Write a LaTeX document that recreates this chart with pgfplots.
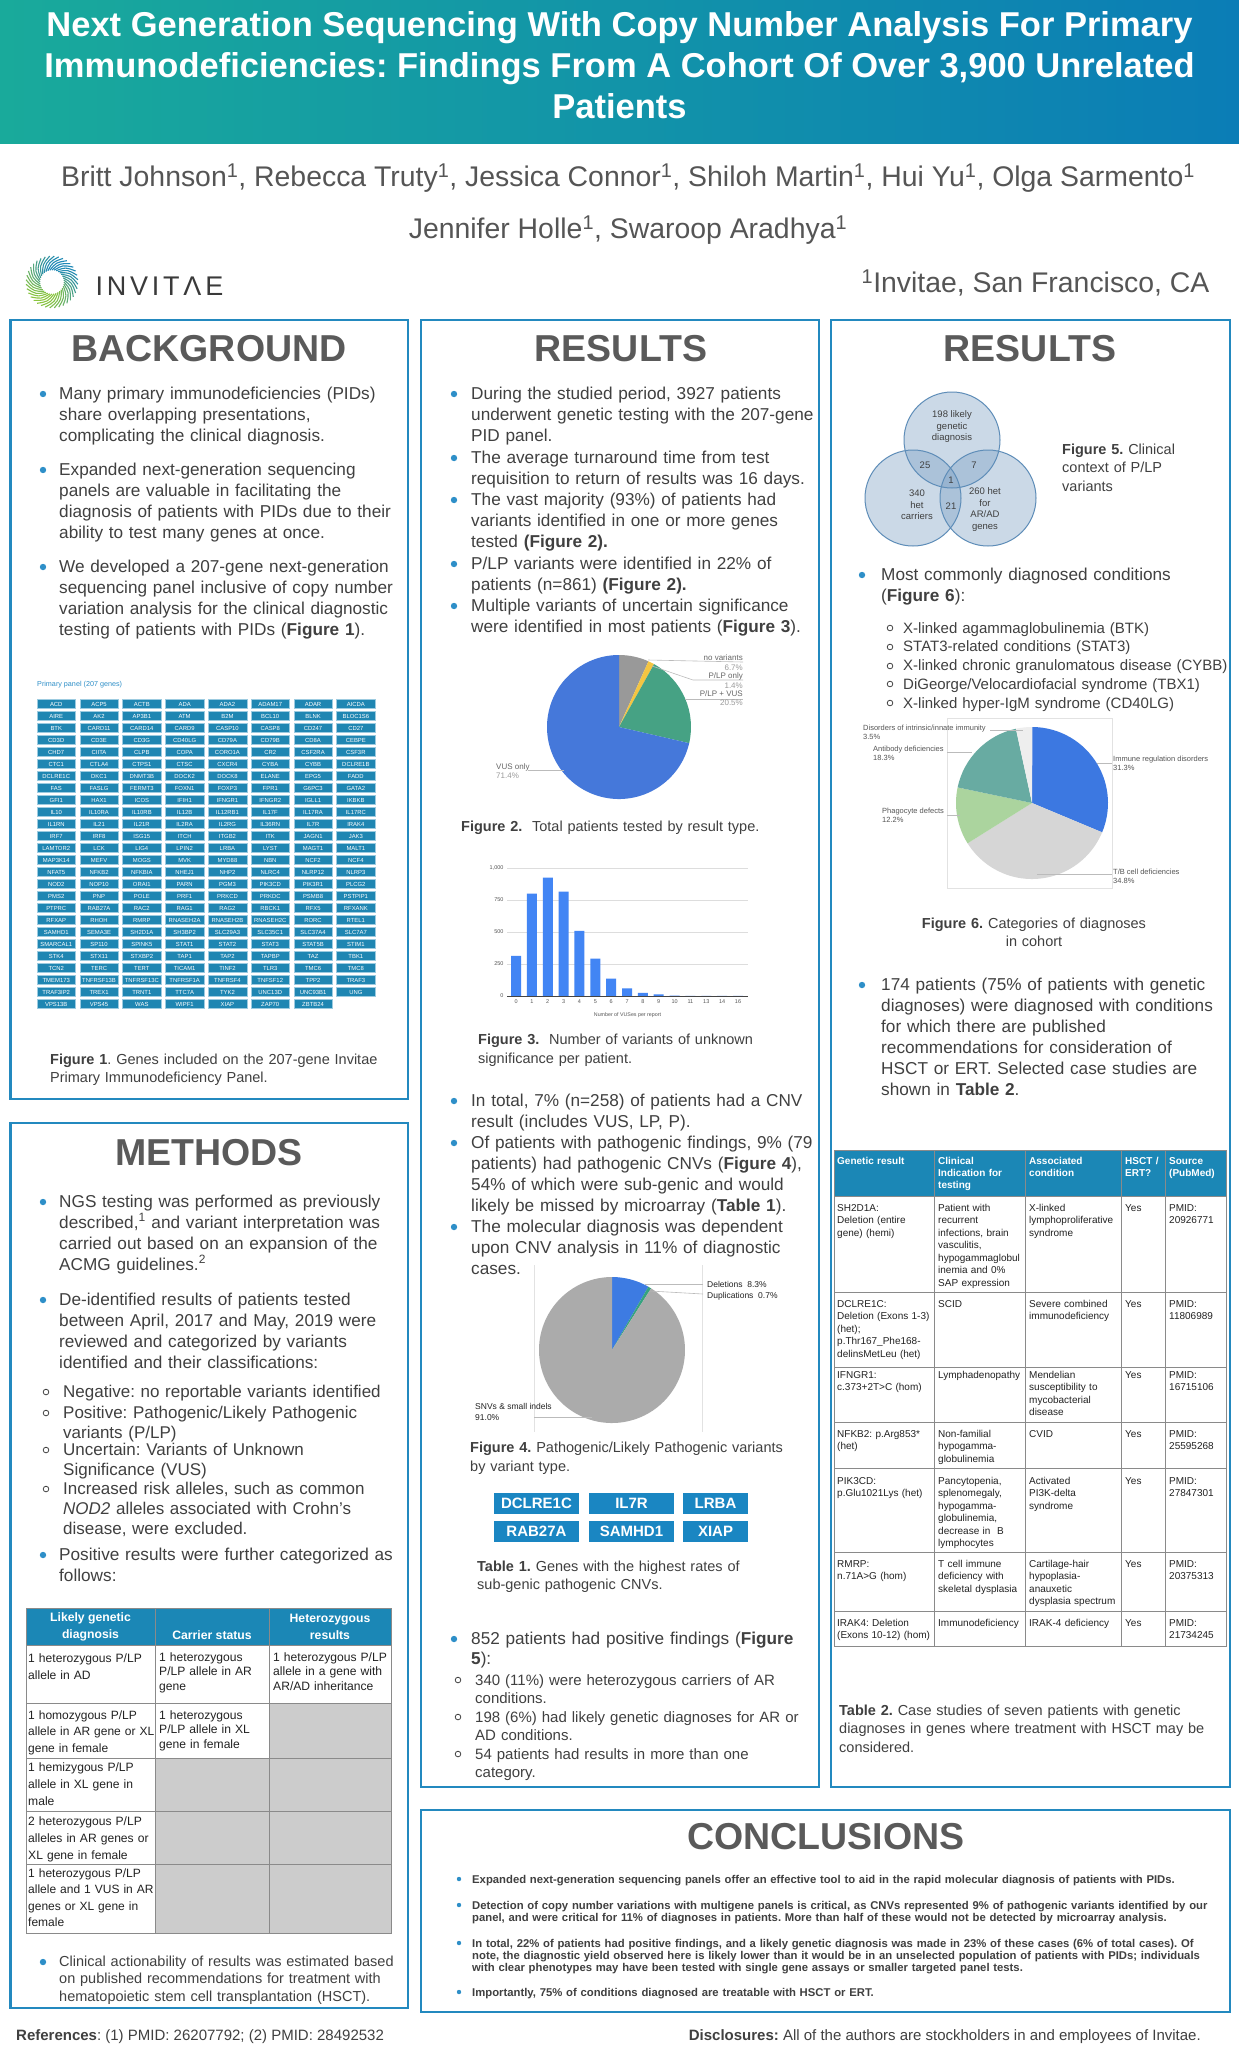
\documentclass[border=0pt]{standalone}
\usepackage{fontspec}
\setmainfont{Liberation Sans}
\usepackage{pgfplots}
\pgfplotsset{compat=1.18}
\frenchspacing
\definecolor{hdrTeal}{HTML}{19AA9B}
\definecolor{hdrBlue}{HTML}{0B7DB6}
\definecolor{boxblue}{HTML}{2389BF}
\definecolor{bulblue}{HTML}{2E8FC8}
\definecolor{txt}{HTML}{404040}
\definecolor{cellt}{HTML}{222222}
\definecolor{authc}{HTML}{555555}
\definecolor{headc}{HTML}{5A5A5A}
\definecolor{tblhead}{HTML}{1B87B6}
\definecolor{genefill}{HTML}{1F86B2}
\definecolor{geneedge}{HTML}{9CCBE0}
\definecolor{tgene}{HTML}{1A86C2}
\definecolor{cellgrey}{HTML}{CCCCCC}
\definecolor{gridln}{HTML}{8A8A8A}
\definecolor{fNov}{HTML}{999999}
\definecolor{fPlp}{HTML}{F4C542}
\definecolor{fPlpVus}{HTML}{46A284}
\definecolor{fVus}{HTML}{4578DA}
\definecolor{fDel}{HTML}{3D7BE2}
\definecolor{fDup}{HTML}{36A37F}
\definecolor{fSnv}{HTML}{ABABAB}
\definecolor{fImm}{HTML}{3C78E1}
\definecolor{fTB}{HTML}{D6D6D6}
\definecolor{fPhag}{HTML}{ABD49E}
\definecolor{fAb}{HTML}{68ABA2}
\definecolor{fInn}{HTML}{EEEEEE}
\definecolor{barblue}{HTML}{4285F4}
\definecolor{gridc}{HTML}{DDDDDD}
\definecolor{axisc}{HTML}{444444}
\definecolor{tickc}{HTML}{555555}
\definecolor{leader}{HTML}{BBBBBB}
\definecolor{lbl}{HTML}{666666}
\definecolor{lblv}{HTML}{9A9A9A}
\definecolor{venn}{HTML}{7DA1C4}
\definecolor{vennedge}{HTML}{5E8DB8}
\definecolor{logoG}{HTML}{8CC63F}
\definecolor{logoB}{HTML}{1E88B8}
\definecolor{logoT}{HTML}{3A3A3A}
\definecolor{chartbox}{HTML}{E2E2E2}
\newcommand{\fs}[2]{\fontsize{#1}{#2}\selectfont}
\newcommand{\bodyf}{\fs{17.2}{21}}
\newcommand{\capf}{\fs{14.5}{18.5}}
\newcommand{\TX}[4]{\node[anchor=base west,inner sep=0pt,text width=800pt,align=left,text=txt,font=#3] at (#1,#2) {#4};}
\newcommand{\TK}[4]{\node[anchor=base west,inner sep=0pt,text width=300pt,align=left,text=cellt,font=#3] at (#1,#2) {#4};}
\newcommand{\THd}[3]{\node[anchor=base west,inner sep=0pt,text width=120pt,align=left,text=white,font=\bfseries\fs{10}{12.2}] at (#1,#2) {#3};}
\newcommand{\bdot}[2]{\fill[bulblue] (#1,#2) circle[radius=3.2];}
\newcommand{\sdot}[2]{\draw[txt,line width=0.8pt] (#1,#2) circle[radius=2.8];}
\newcommand{\pie}[4]{%
  \xdef\pcum{0}%
  \foreach \v/\col in {#4} {%
    \pgfmathsetmacro{\pa}{-90+\pcum*3.6}%
    \pgfmathsetmacro{\pb}{-90+(\pcum+\v)*3.6}%
    \fill[\col] (#1,#2) -- ++(\pa:#3) arc[start angle=\pa, end angle=\pb, radius=#3] -- cycle;%
    \pgfmathsetmacro{\pn}{\pcum+\v}%
    \xdef\pcum{\pn}%
  }%
}
\begin{document}
\begin{tikzpicture}[x=1pt,y=-1pt]
\path[use as bounding box] (0,0) rectangle (1239,2064);
\fill[white] (0,0) rectangle (1239,2064);
% ---------- header band
\shade[left color=hdrTeal, right color=hdrBlue] (0,0) rectangle (1239,143);
\node[text=white, font=\bfseries\fs{34.5}{41}, align=center] at (619.5,65)
 {Next Generation Sequencing With Copy Number Analysis For Primary\\Immunodeficiencies: Findings From A Cohort Of Over 3,900 Unrelated\\Patients};
\node[text=authc, font=\fs{28.4}{30}] at (628,178) {Britt Johnson\textsuperscript{1}, Rebecca Truty\textsuperscript{1}, Jessica Connor\textsuperscript{1}, Shiloh Martin\textsuperscript{1}, Hui Yu\textsuperscript{1}, Olga Sarmento\textsuperscript{1}};
\node[text=authc, font=\fs{28.4}{30}] at (628,230) {Jennifer Holle\textsuperscript{1}, Swaroop Aradhya\textsuperscript{1}};
\node[text=authc, font=\fs{28.4}{30}, anchor=east] at (1213,283) {\textsuperscript{1}Invitae, San Francisco, CA};
% logo
\begin{scope}[shift={(52,282)}]
\foreach \i in {0,...,35} {
  \pgfmathsetmacro{\ang}{\i*10}
  \pgfmathtruncatemacro{\pct}{50+50*sin(\ang)}
  \draw[color=logoG!\pct!logoB, line width=1.1pt] (\ang:12) .. controls (\ang+22:20) .. (\ang+45:26);
}
\end{scope}
\node[anchor=west, text=logoT, font=\fs{27}{30}\addfontfeature{LetterSpace=14}] at (92,286) {INVITΛE};
% ---------- boxes
\draw[boxblue, line width=2.5pt] (10.5,320) rectangle (408,1099);
\draw[boxblue, line width=2.5pt] (10.5,1123) rectangle (408,2008);
\draw[boxblue, line width=2.5pt] (421,320) rectangle (819,1787);
\draw[boxblue, line width=2.5pt] (831,320) rectangle (1230,1787);
\draw[boxblue, line width=2.5pt] (421,1810) rectangle (1230,2012);
% headings
\node[text=headc, font=\bfseries\fs{37.5}{40}] at (209,349) {BACKGROUND};
\node[text=headc, font=\bfseries\fs{37.5}{40}] at (621,349) {RESULTS};
\node[text=headc, font=\bfseries\fs{37.5}{40}] at (1030,349) {RESULTS};
\node[text=headc, font=\bfseries\fs{37.5}{40}] at (209,1153) {METHODS};
\node[text=headc, font=\bfseries\fs{37.5}{40}] at (826,1837) {CONCLUSIONS};
% ---------- BACKGROUND
\bdot{43}{394}\TX{59}{399}{\bodyf}{Many primary immunodeficiencies (PIDs)\\share overlapping presentations,\\complicating the clinical diagnosis.}
\bdot{43}{470}\TX{59}{475}{\bodyf}{Expanded next-generation sequencing\\panels are valuable in facilitating the\\diagnosis of patients with PIDs due to their\\ability to test many genes at once.}
\bdot{43}{567}\TX{59}{572}{\bodyf}{We developed a 207-gene next-generation\\sequencing panel inclusive of copy number\\variation analysis for the clinical diagnostic\\testing of patients with PIDs (\textbf{Figure 1}).}
% gene grid
\node[anchor=base west, inner sep=0pt, text=bulblue, font=\fs{7.2}{8}] at (37,686) {Primary panel (207 genes)};
\foreach \row [count=\r from 0] in {
{ACD,ACP5,ACTB,ADA,ADA2,ADAM17,ADAR,AICDA},
{AIRE,AK2,AP3B1,ATM,B2M,BCL10,BLNK,BLOC1S6},
{BTK,CARD11,CARD14,CARD9,CASP10,CASP8,CD247,CD27},
{CD3D,CD3E,CD3G,CD40LG,CD79A,CD79B,CD8A,CEBPE},
{CHD7,CIITA,CLPB,COPA,CORO1A,CR2,CSF2RA,CSF3R},
{CTC1,CTLA4,CTPS1,CTSC,CXCR4,CYBA,CYBB,DCLRE1B},
{DCLRE1C,DKC1,DNMT3B,DOCK2,DOCK8,ELANE,EPG5,FADD},
{FAS,FASLG,FERMT3,FOXN1,FOXP3,FPR1,G6PC3,GATA2},
{GFI1,HAX1,ICOS,IFIH1,IFNGR1,IFNGR2,IGLL1,IKBKB},
{IL10,IL10RA,IL10RB,IL12B,IL12RB1,IL17F,IL17RA,IL17RC},
{IL1RN,IL21,IL21R,IL2RA,IL2RG,IL36RN,IL7R,IRAK4},
{IRF7,IRF8,ISG15,ITCH,ITGB2,ITK,JAGN1,JAK3},
{LAMTOR2,LCK,LIG4,LPIN2,LRBA,LYST,MAGT1,MALT1},
{MAP3K14,MEFV,MOGS,MVK,MYD88,NBN,NCF2,NCF4},
{NFAT5,NFKB2,NFKBIA,NHEJ1,NHP2,NLRC4,NLRP12,NLRP3},
{NOD2,NOP10,ORAI1,PARN,PGM3,PIK3CD,PIK3R1,PLCG2},
{PMS2,PNP,POLE,PRF1,PRKCD,PRKDC,PSMB8,PSTPIP1},
{PTPRC,RAB27A,RAC2,RAG1,RAG2,RBCK1,RFX5,RFXANK},
{RFXAP,RHOH,RMRP,RNASEH2A,RNASEH2B,RNASEH2C,RORC,RTEL1},
{SAMHD1,SEMA3E,SH2D1A,SH3BP2,SLC29A3,SLC35C1,SLC37A4,SLC7A7},
{SMARCAL1,SP110,SPINK5,STAT1,STAT2,STAT3,STAT5B,STIM1},
{STK4,STX11,STXBP2,TAP1,TAP2,TAPBP,TAZ,TBK1},
{TCN2,TERC,TERT,TICAM1,TINF2,TLR3,TMC6,TMC8},
{TMEM173,TNFRSF13B,TNFRSF13C,TNFRSF1A,TNFRSF4,TNFSF12,TPP2,TRAF3},
{TRAF3IP2,TREX1,TRNT1,TTC7A,TYK2,UNC13D,UNC93B1,UNG},
{VPS13B,VPS45,WAS,WIPF1,XIAP,ZAP70,ZBTB24}} {
  \foreach \g [count=\c from 0] in \row {
    \pgfmathsetmacro{\gx}{37+\c*42.8}
    \pgfmathsetmacro{\gy}{704+\r*12}
    \draw[geneedge, fill=genefill, line width=0.4pt] (\gx,\gy-4.6) rectangle ++(38.5,9.2);
    \node[text=white, font=\fs{5.9}{6.5}, inner sep=0pt] at (\gx+19.25,\gy) {\g};
  }
}
\TX{50}{1064}{\capf}{\textbf{Figure 1}. Genes included on the 207-gene Invitae\\Primary Immunodeficiency Panel.}
% ---------- METHODS
\bdot{43}{1202}\TX{59}{1207}{\bodyf}{NGS testing was performed as previously\\described,\textsuperscript{1} and variant interpretation was\\carried out based on an expansion of the\\ACMG guidelines.\textsuperscript{2}}
\bdot{43}{1300}\TX{59}{1305}{\bodyf}{De-identified results of patients tested\\between April, 2017 and May, 2019 were\\reviewed and categorized by variants\\identified and their classifications:}
\sdot{46}{1392}\TX{63}{1397}{\fs{17}{20}}{Negative: no reportable variants identified}
\sdot{46}{1413}\TX{63}{1418}{\fs{17}{20}}{Positive: Pathogenic/Likely Pathogenic\\variants (P/LP)}
\sdot{46}{1450}\TX{63}{1455}{\fs{17}{20}}{Uncertain: Variants of Unknown\\Significance (VUS)}
\sdot{46}{1489}\TX{63}{1494}{\fs{17}{20}}{Increased risk alleles, such as common\\\textit{NOD2} alleles associated with Crohn's\\disease, were excluded.}
\bdot{43}{1555}\TX{59}{1560}{\bodyf}{Positive results were further categorized as\\follows:}
% methods table
\fill[tblhead] (26,1608) rectangle (391,1645);
\fill[cellgrey] (269,1703) rectangle (391,1758);
\fill[cellgrey] (155,1758) rectangle (391,1933);
\foreach \yy in {1645,1703,1758,1811,1864} {\draw[gridln,line width=0.8pt] (26,\yy) -- (391,\yy);}
\foreach \xx in {155,269} {\draw[gridln,line width=0.8pt] (\xx,1608) -- (\xx,1933);}
\draw[gridln,line width=0.8pt] (26,1608) rectangle (391,1933);
\node[text=white,font=\bfseries\fs{12.2}{17},align=center] at (90.5,1627) {Likely genetic\\diagnosis};
\node[text=white,font=\bfseries\fs{12.2}{17},align=center] at (212,1635) {Carrier status};
\node[text=white,font=\bfseries\fs{12.2}{17},align=center] at (330,1627) {Heterozygous\\results};
\TK{28}{1662}{\fs{12.1}{17}}{1 heterozygous P/LP\\allele in AD}
\TK{159}{1661}{\fs{12.1}{14.5}}{1 heterozygous\\P/LP allele in AR\\gene}
\TK{273}{1661}{\fs{12.1}{14.5}}{1 heterozygous P/LP\\allele in a gene with\\AR/AD inheritance}
\TK{28}{1719}{\fs{12.0}{16.7}}{1 homozygous P/LP\\allele in AR gene or XL\\gene in female}
\TK{159}{1719}{\fs{12.1}{14.5}}{1 heterozygous\\P/LP allele in XL\\gene in female}
\TK{28}{1771}{\fs{12.1}{17}}{1 hemizygous P/LP\\allele in XL gene in\\male}
\TK{28}{1825}{\fs{12.1}{17}}{2 heterozygous P/LP\\alleles in AR genes or\\XL gene in female}
\TK{28}{1877}{\fs{12.0}{16.5}}{1 heterozygous P/LP\\allele and 1 VUS in AR\\genes or XL gene in\\female}
\bdot{43}{1962}\TX{59}{1966}{\fs{14.5}{17.5}}{Clinical actionability of results was estimated based\\on published recommendations for treatment with\\hematopoietic stem cell transplantation (HSCT).}
% ---------- RESULTS (middle)
\bdot{454}{394}\TX{471}{399}{\bodyf}{During the studied period, 3927 patients\\underwent genetic testing with the 207-gene\\PID panel.}
\bdot{454}{458}\TX{471}{463}{\bodyf}{The average turnaround time from test\\requisition to return of results was 16 days.}
\bdot{454}{500}\TX{471}{505}{\bodyf}{The vast majority (93\%) of patients had\\variants identified in one or more genes\\tested \textbf{(Figure 2).}}
\bdot{454}{564}\TX{471}{569}{\bodyf}{P/LP variants were identified in 22\% of\\patients (n=861) \textbf{(Figure 2).}}
\bdot{454}{606}\TX{471}{611}{\bodyf}{Multiple variants of uncertain significance\\were identified in most patients (\textbf{Figure 3}).}
% Figure 2 pie
\pie{619}{727}{72}{6.7/fNov,1.4/fPlp,20.5/fPlpVus,71.4/fVus}
\draw[leader,line width=0.6pt] (648,660) -- (743,662);
\draw[leader,line width=0.6pt] (652,666) -- (693,680) -- (743,680);
\draw[leader,line width=0.6pt] (685,699) -- (743,699);
\draw[leader,line width=0.6pt] (528,770) -- (564,770);
\node[anchor=base east,inner sep=0pt,text=lbl,font=\fs{8}{9}] at (743,660) {no variants};
\node[anchor=base east,inner sep=0pt,text=lblv,font=\fs{8}{9}] at (743,670) {6.7\%};
\node[anchor=base east,inner sep=0pt,text=lbl,font=\fs{8}{9}] at (743,678) {P/LP only};
\node[anchor=base east,inner sep=0pt,text=lblv,font=\fs{8}{9}] at (743,688) {1.4\%};
\node[anchor=base east,inner sep=0pt,text=lbl,font=\fs{8}{9}] at (743,696) {P/LP + VUS};
\node[anchor=base east,inner sep=0pt,text=lblv,font=\fs{8}{9}] at (743,705) {20.5\%};
\node[anchor=base west,inner sep=0pt,text=lbl,font=\fs{8}{9}] at (496,769) {VUS only};
\node[anchor=base west,inner sep=0pt,text=lblv,font=\fs{8}{9}] at (496,778) {71.4\%};
\TX{461}{831}{\capf}{\textbf{Figure 2.}\ \ Total patients tested by result type.}
% Figure 3 bar chart
\begin{axis}[
  at={(507pt,-996pt)}, anchor=south west,
  scale only axis, width=241pt, height=128pt,
  xmin=-0.57, xmax=14.63, ymin=0, ymax=1000,
  enlargelimits=false,
  axis line style={draw=none},
  major tick length=0pt,
  ytick={0,250,500,750,1000},
  xtick={0,...,14},
  xticklabels={0,1,2,3,4,5,6,7,8,9,10,11,13,14,16},
  ymajorgrids, grid style={draw=gridc, line width=0.5pt},
  tick label style={font=\fs{5.5}{6}, text=tickc},
  /pgf/number format/assume math mode=true,
  xlabel={Number of VUSes per report},
  xlabel style={font=\fs{5.3}{6}, text=tickc, at={(axis description cs:0.5,-0.15)}, anchor=center},
]
\addplot[ybar, bar width=10pt, fill=barblue, draw=none] coordinates {
(0,313) (1,800) (2,925) (3,816) (4,508) (5,293) (6,135) (7,60) (8,24) (9,12) (10,4) (11,2) (12,1) (13,1) (14,1)};
\draw[axisc, line width=0.8pt] (axis cs:-0.57,0) -- (axis cs:14.63,0);
\end{axis}
\TX{478}{1044}{\fs{14.5}{19}}{\textbf{Figure 3.}\ \ Number of variants of unknown\\significance per patient.}
\bdot{454}{1101}\TX{471}{1106}{\bodyf}{In total, 7\% (n=258) of patients had a CNV\\result (includes VUS, LP, P).}
\bdot{454}{1143}\TX{471}{1148}{\bodyf}{Of patients with pathogenic findings, 9\% (79\\patients) had pathogenic CNVs (\textbf{Figure 4}),\\54\% of which were sub-genic and would\\likely be missed by microarray (\textbf{Table 1}).}
\bdot{454}{1227}\TX{471}{1232}{\bodyf}{The molecular diagnosis was dependent\\upon CNV analysis in 11\% of diagnostic\\cases.}
% Figure 4 pie
\draw[chartbox,line width=0.6pt] (534,1265) -- (534,1432);
\draw[chartbox,line width=0.6pt] (702,1265) -- (702,1432);
\pie{612}{1350}{73}{8.3/fDel,0.7/fDup,91.0/fSnv}
\draw[leader,line width=0.6pt] (645,1284) -- (703,1284);
\draw[leader,line width=0.6pt] (650,1291) -- (703,1294);
\draw[leader,line width=0.6pt] (534,1417) -- (592,1417);
\node[anchor=base west,inner sep=0pt,text=cellt,font=\fs{8.5}{10}] at (707,1287) {Deletions\ \ 8.3\%};
\node[anchor=base west,inner sep=0pt,text=cellt,font=\fs{8.5}{10}] at (707,1298) {Duplications\ \ 0.7\%};
\node[anchor=base west,inner sep=0pt,text=cellt,font=\fs{8.5}{10}] at (475,1409) {SNVs \& small indels};
\node[anchor=base west,inner sep=0pt,text=cellt,font=\fs{8.5}{10}] at (475,1420) {91.0\%};
\TX{470}{1452}{\fs{14.5}{19}}{\textbf{Figure 4.} Pathogenic/Likely Pathogenic variants\\by variant type.}
% Table 1 genes
\foreach \gx/\gw/\gy/\gn in {494/85/1493/DCLRE1C, 589/85/1493/IL7R, 683/65/1493/LRBA, 494/85/1521/RAB27A, 589/85/1521/SAMHD1, 683/65/1521/XIAP} {
  \fill[tgene] (\gx,\gy) rectangle ++(\gw,21);
  \node[text=white,font=\bfseries\fs{15}{16},inner sep=0pt] at (\gx+\gw/2,\gy+10.5) {\gn};
}
\TX{477}{1571}{\capf}{\textbf{Table 1.} Genes with the highest rates of\\sub-genic pathogenic CNVs.}
\bdot{454}{1639}\TX{471}{1644}{\fs{17.2}{20}}{852 patients had positive findings (\textbf{Figure}\\\textbf{5}):}
\sdot{458}{1680}\TX{475}{1685}{\fs{15}{18}}{340 (11\%) were heterozygous carriers of AR\\conditions.}
\sdot{458}{1717}\TX{475}{1722}{\fs{15}{18}}{198 (6\%) had likely genetic diagnoses for AR or\\AD conditions.}
\sdot{458}{1754}\TX{475}{1759}{\fs{15}{18}}{54 patients had results in more than one\\category.}
% ---------- RESULTS (right)
% Venn
\fill[venn, fill opacity=0.4] (952,440) circle[radius=48];
\fill[venn, fill opacity=0.4] (913,498) circle[radius=48];
\fill[venn, fill opacity=0.4] (988,498) circle[radius=48];
\draw[vennedge, line width=1pt] (952,440) circle[radius=48];
\draw[vennedge, line width=1pt] (913,498) circle[radius=48];
\draw[vennedge, line width=1pt] (988,498) circle[radius=48];
\node[text=txt,font=\fs{9.5}{11.5},align=center] at (952,427) {198 likely\\genetic\\diagnosis};
\node[text=txt,font=\fs{9.5}{11.5}] at (925,465) {25};
\node[text=txt,font=\fs{9.5}{11.5}] at (974,465) {7};
\node[text=txt,font=\fs{9.5}{11.5}] at (951,480) {1};
\node[text=txt,font=\fs{9.5}{11.5}] at (951,506) {21};
\node[text=txt,font=\fs{9.5}{11.5},align=center] at (917,505) {340\\het\\carriers};
\node[text=txt,font=\fs{9.5}{11.5},align=center] at (985,509.5) {260 het\\for\\AR/AD\\genes};
\TX{1062}{454}{\capf}{\textbf{Figure 5.} Clinical\\context of P/LP\\variants}
\bdot{862}{575}\TX{881}{580}{\bodyf}{Most commonly diagnosed conditions\\(\textbf{Figure 6}):}
\foreach \yy in {628,647,666,684,703} {\sdot{890}{\yy}}
\TX{903}{633}{\fs{15}{18.75}}{X-linked agammaglobulinemia (BTK)\\STAT3-related conditions (STAT3)\\X-linked chronic granulomatous disease (CYBB)\\DiGeorge/Velocardiofacial syndrome (TBX1)\\X-linked hyper-IgM syndrome (CD40LG)}
% Figure 6 pie
\draw[chartbox,line width=0.6pt] (947,718) rectangle (1112,888);
\pie{1032}{803}{76}{31.3/fImm,34.8/fTB,12.2/fPhag,18.3/fAb,3.5/fInn}
\draw[leader,line width=0.6pt] (1097,763) -- (1112,763);
\draw[leader,line width=0.6pt] (1037,874) -- (1112,874);
\draw[leader,line width=0.6pt] (947,815) -- (960,815);
\draw[leader,line width=0.6pt] (947,752) -- (972,752);
\draw[leader,line width=0.6pt] (990,730) -- (1023,730);
\foreach \lx/\ly/\la/\lb in {1113/761/Immune regulation disorders/31.3\%, 1113/874/T\slash B cell deficiencies/34.8\%, 882/813/Phagocyte defects/12.2\%, 873/751/Antibody deficiencies/18.3\%, 863/730/Disorders of intrinsic\slash innate immunity/3.5\%} {
  \node[anchor=base west,inner sep=0pt,text=tickc,font=\fs{7.5}{9}] at (\lx,\ly) {\la};
  \node[anchor=base west,inner sep=0pt,text=tickc,font=\fs{7.5}{9}] at (\lx,\ly+9) {\lb};
}
\node[anchor=base,inner sep=0pt,text width=300pt,align=center,text=txt,font=\capf] at (1034,928) {\textbf{Figure 6.} Categories of diagnoses\\in cohort};
\bdot{862}{985}\TX{881}{990}{\bodyf}{174 patients (75\% of patients with genetic\\diagnoses) were diagnosed with conditions\\for which there are published\\recommendations for consideration of\\HSCT or ERT. Selected case studies are\\shown in \textbf{Table 2}.}
% Table 2
\fill[tblhead] (834,1150) rectangle (1226,1196);
\foreach \yy in {1196,1292,1367,1422,1468,1552,1611} {\draw[gridln,line width=0.7pt] (834,\yy) -- (1226,\yy);}
\foreach \xx in {934,1025,1121,1165} {\draw[gridln,line width=0.7pt] (\xx,1150) -- (\xx,1646);}
\draw[gridln,line width=0.7pt] (834,1150) rectangle (1226,1646);
\THd{837}{1164.5}{Genetic result}
\THd{938}{1164.5}{Clinical\\Indication for\\testing}
\THd{1029}{1164.5}{Associated\\condition}
\THd{1125}{1164.5}{HSCT /\\ERT?}
\THd{1169}{1164.5}{Source\\(PubMed)}
\newcommand{\trow}[6]{%
 \TK{837}{#1}{\fs{10}{12.5}}{#2}\TK{938}{#1}{\fs{10}{12.5}}{#3}\TK{1029}{#1}{\fs{10}{12.5}}{#4}\TK{1125}{#1}{\fs{10}{12.5}}{#5}\TK{1169}{#1}{\fs{10}{12.5}}{#6}}
\trow{1211}{SH2D1A:\\Deletion (entire\\gene) (hemi)}{Patient with\\recurrent\\infections, brain\\vasculitis,\\hypogammaglobul\\inemia and 0\%\\SAP expression}{X-linked\\lymphoproliferative\\syndrome}{Yes}{PMID:\\20926771}
\trow{1307}{DCLRE1C:\\Deletion (Exons 1-3)\\(het);\\p.Thr167\_Phe168-\\delinsMetLeu (het)}{SCID}{Severe combined\\immunodeficiency}{Yes}{PMID:\\11806989}
\trow{1378}{IFNGR1:\\c.373+2T>C (hom)}{Lymphadenopathy}{Mendelian\\susceptibility to\\mycobacterial\\disease}{Yes}{PMID:\\16715106}
\trow{1437}{NFKB2: p.Arg853*\\(het)}{Non-familial\\hypogamma-\\globulinemia}{CVID}{Yes}{PMID:\\25595268}
\trow{1484}{PIK3CD:\\p.Glu1021Lys (het)}{Pancytopenia,\\splenomegaly,\\hypogamma-\\globulinemia,\\decrease in\ \ B\\lymphocytes}{Activated\\PI3K-delta\\syndrome}{Yes}{PMID:\\27847301}
\trow{1567}{RMRP:\\n.71A>G (hom)}{T cell immune\\deficiency with\\skeletal dysplasia}{Cartilage-hair\\hypoplasia-\\anauxetic\\dysplasia spectrum}{Yes}{PMID:\\20375313}
\trow{1626}{IRAK4: Deletion\\(Exons 10-12) (hom)}{Immunodeficiency}{IRAK-4 deficiency}{Yes}{PMID:\\21734245}
\TX{839}{1715}{\capf}{\textbf{Table 2.} Case studies of seven patients with genetic\\diagnoses in genes where treatment with HSCT may be\\considered.}
% ---------- CONCLUSIONS
\foreach \yy in {1879,1905,1943,1992} {\fill[bulblue] (459,\yy) circle[radius=2.2];}
\TX{472}{1883}{\bfseries\fs{11.3}{12}}{Expanded next-generation sequencing panels offer an effective tool to aid in the rapid molecular diagnosis of patients with PIDs.}
\TX{472}{1909}{\bfseries\fs{11.3}{12}}{Detection of copy number variations with multigene panels is critical, as CNVs represented 9\% of pathogenic variants identified by our\\panel, and were critical for 11\% of diagnoses in patients. More than half of these would not be detected by microarray analysis.}
\TX{472}{1947}{\bfseries\fs{11.3}{12}}{In total, 22\% of patients had positive findings, and a likely genetic diagnosis was made in 23\% of these cases (6\% of total cases). Of\\note, the diagnostic yield observed here is likely lower than it would be in an unselected population of patients with PIDs; individuals\\with clear phenotypes may have been tested with single gene assays or smaller targeted panel tests.}
\TX{472}{1996}{\bfseries\fs{11.3}{12}}{Importantly, 75\% of conditions diagnosed are treatable with HSCT or ERT.}
% ---------- footer
\node[anchor=base west,inner sep=0pt,text=txt,font=\fs{15}{18}] at (16,2040) {\textbf{References}: (1) PMID: 26207792; (2) PMID: 28492532};
\node[anchor=base east,inner sep=0pt,text=txt,font=\fs{15}{18}] at (1201,2040) {\textbf{Disclosures:} All of the authors are stockholders in and employees of Invitae.};
\end{tikzpicture}
\end{document}
